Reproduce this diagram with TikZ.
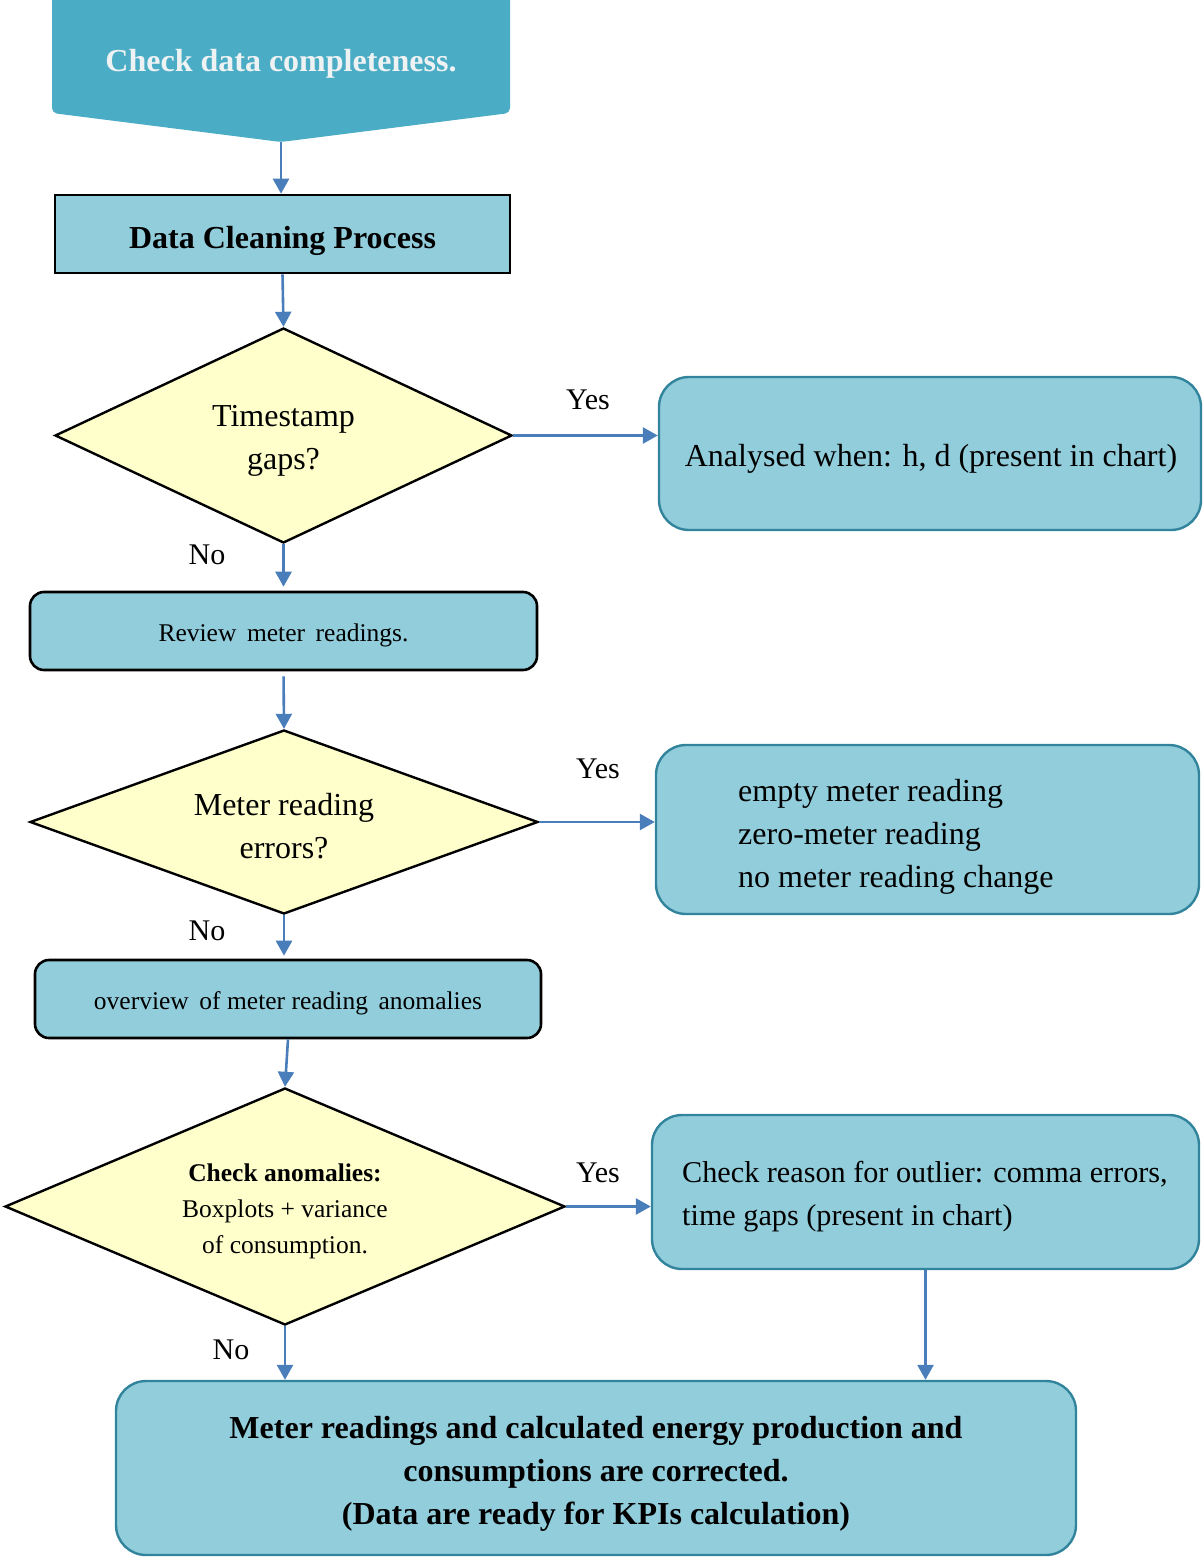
\documentclass[tikz,border=0pt]{standalone}
\usepackage{fontspec}
\setmainfont{Liberation Serif}
\usetikzlibrary{arrows.meta,shapes.geometric}
\definecolor{topfill}{HTML}{4BACC6}
\definecolor{boxfill}{HTML}{92CDDC}
\definecolor{boxline}{HTML}{31849B}
\definecolor{decfill}{HTML}{FFFFCC}
\definecolor{flowblue}{HTML}{4A7EBB}
\definecolor{toptext}{HTML}{EEF2F3}

\begin{document}
\begin{tikzpicture}[x=1pt,y=-1pt,
  flow/.style={draw=flowblue, line width=2.6pt, -{Triangle[length=15pt,width=16pt]}},
  bigtext/.style={font=\fontsize{32}{43}\selectfont, inner sep=0pt, align=center},
  boldtext/.style={font=\fontsize{32}{43}\selectfont\bfseries, inner sep=0pt, align=center},
  smalltext/.style={font=\fontsize{25.5}{36}\selectfont, inner sep=0pt, align=center},
  answer/.style={font=\fontsize{30}{36}\selectfont, inner sep=0pt},
  plainbox/.style={draw=black, fill=boxfill, line width=2.6pt, inner sep=0pt},
  softbox/.style={draw=boxline, fill=boxfill, line width=2.4pt, rounded corners=30pt, inner sep=0pt},
  decision/.style={diamond, draw=black, fill=decfill, line width=2.4pt, inner sep=0pt}
]
\useasboundingbox (0,0) rectangle (1203,1557);

% start shape (off-page connector)
\begin{scope}
  \clip (0,0) rectangle (1203,1557);
  \fill[topfill, rounded corners=5pt] (52,-20) -- (52,113) -- (281,142) -- (510,113) -- (510,-20) -- cycle;
\end{scope}
\node[boldtext, text=toptext] (start) at (281,64) {Check data completeness.};
\coordinate (starttip) at (281,142);

% process boxes
\node[plainbox, minimum width=455pt, minimum height=78pt] (dcp) at (282.5,234) {};
\node[boldtext] (dcptext) at (282.5,241) {Data Cleaning Process};
\node[plainbox, rounded corners=14pt, minimum width=507pt, minimum height=78pt] (review) at (283.5,631) {};
\node[smalltext] (reviewtext) at (283.5,635) {Review\,\ meter\,\ readings.};
\node[plainbox, rounded corners=14pt, minimum width=506pt, minimum height=78pt] (overview) at (288,999) {};
\node[smalltext] (overviewtext) at (288,1003) {overview\,\ of meter reading\,\ anomalies};

% decisions
\node[decision, aspect=2.126, minimum width=457pt, minimum height=215pt] (d1) at (283.5,435.5) {};
\node[bigtext] (d1text) at (283.5,440.5) {Timestamp\\gaps?};
\node[decision, aspect=2.76, minimum width=508pt, minimum height=184pt] (d2) at (284,822) {};
\node[bigtext] (d2text) at (284,826.5) {Meter reading\\errors?};
\node[decision, aspect=2.36, minimum width=560pt, minimum height=237pt] (d3) at (285,1206.5) {};
\node[smalltext] (d3text) at (285,1211) {\textbf{Check anomalies:}\\Boxplots + variance\\of consumption.};

% outcome boxes
\node[softbox, minimum width=542pt, minimum height=153pt] (boxa) at (930,453.5) {};
\node[bigtext] (boxatext) at (931,458.5) {Analysed when: h, d (present in chart)};
\node[softbox, minimum width=543pt, minimum height=169pt] (boxb) at (927.5,829.5) {};
\node[bigtext, align=left, anchor=west] (boxbtext) at (738,836.5) {empty meter reading\\zero-meter reading\\no meter reading change};
\node[softbox, minimum width=547pt, minimum height=154pt] (boxc) at (925.5,1192) {};
\node[bigtext, font=\fontsize{30.2}{43}\selectfont, align=left, anchor=west] (boxctext) at (682,1197) {Check reason for outlier: comma errors,\\time gaps (present in chart)};
\node[softbox, minimum width=960pt, minimum height=174pt] (final) at (596,1468) {};
\node[boldtext] (finaltext) at (596,1474) {Meter readings and calculated energy production and\\consumptions are corrected.\\(Data are ready for KPIs calculation)};

% answer labels
\node[answer] (yes1) at (588,400) {Yes};
\node[answer] (yes2) at (598,769) {Yes};
\node[answer] (yes3) at (598,1173) {Yes};
\node[answer] (no1) at (207,555) {No};
\node[answer] (no2) at (207,931) {No};
\node[answer] (no3) at (231,1350) {No};

% connectors
\draw[flow] (starttip) -- (starttip |- dcp.north);
\draw[flow] (dcp.south) -- (d1.north);
\draw[flow] (d1.east) -- (d1.east -| boxa.west);
\draw[flow, shorten >=4pt] (d1.south) -- (review.north);
\draw[flow, shorten <=5pt] (review.south) -- (d2.north);
\draw[flow] (d2.east) -- (d2.east -| boxb.west);
\draw[flow, shorten >=3pt] (d2.south) -- (d2.south |- overview.north);
\draw[flow] (overview.south) -- (d3.north);
\draw[flow] (d3.east) -- (d3.east -| boxc.west);
\draw[flow] (boxc.south) -- (boxc.south |- final.north);
\draw[flow] (d3.south) -- (d3.south |- final.north);
\end{tikzpicture}
\end{document}
